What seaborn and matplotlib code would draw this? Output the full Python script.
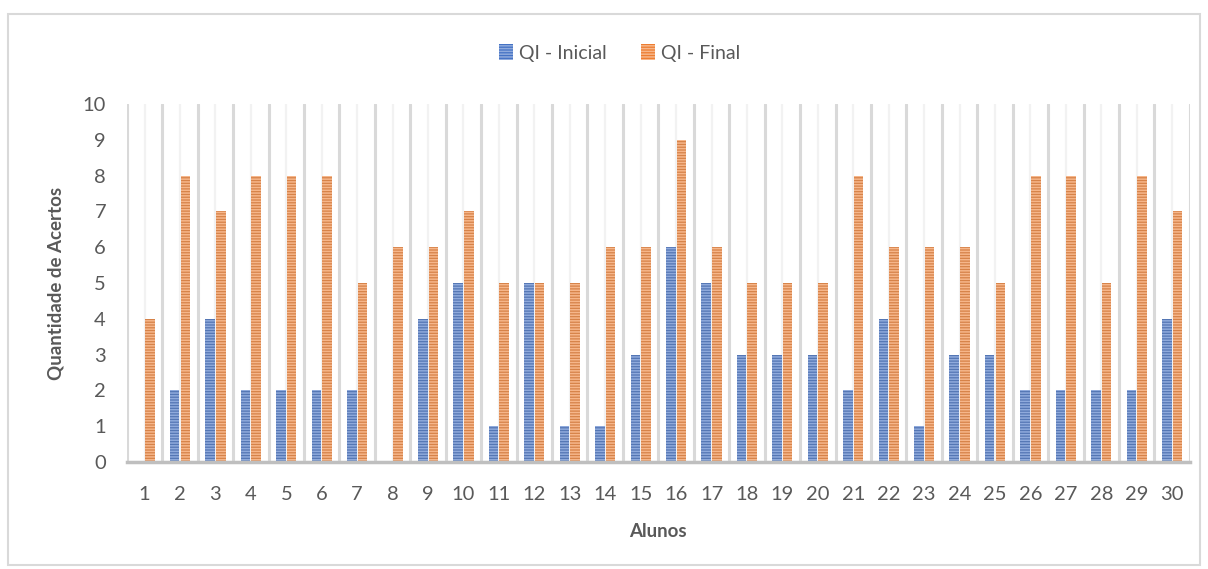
import matplotlib
matplotlib.use('Agg')
import matplotlib.pyplot as plt
from matplotlib.patches import Rectangle
import pandas as pd
import seaborn as sns

alunos = list(range(1, 31))
qi_inicial = [0, 2, 4, 2, 2, 2, 2, 0, 4, 5, 1, 5, 1, 1, 3, 6, 5, 3, 3, 3, 2, 4, 1, 3, 3, 2, 2, 2, 2, 4]
qi_final = [4, 8, 7, 8, 8, 8, 5, 6, 6, 7, 5, 5, 5, 6, 6, 9, 6, 5, 5, 5, 8, 6, 6, 6, 5, 8, 8, 5, 8, 7]
series = ['QI - Inicial', 'QI - Final']

df = pd.DataFrame({
    'Alunos': alunos * 2,
    'Acertos': qi_inicial + qi_final,
    'Serie': [series[0]] * 30 + [series[1]] * 30,
})

sns.set_style('white')
plt.rcParams['font.family'] = ['Lato', 'DejaVu Sans']
plt.rcParams['hatch.linewidth'] = 1.1

grey = '#595959'
colors = {'QI - Inicial': '#4472C4', 'QI - Final': '#ED7D31'}
stripes = {'QI - Inicial': '#8FAADC', 'QI - Final': '#F6B68A'}

fig = plt.figure(figsize=(12.08, 5.69), dpi=100)
ax = fig.add_axes([0.105, 0.188, 0.88, 0.629])

sns.barplot(data=df, x='Alunos', y='Acertos', hue='Serie', hue_order=series,
            palette=colors, width=0.6, gap=0.1, legend=False, ax=ax)

for cont, name in zip(ax.containers, series):
    for p in cont:
        p.set_edgecolor(stripes[name])
        p.set_linewidth(0)
        p.set_hatch('------')

ax.set_ylim(0, 10)
ax.set_xlim(-0.5, 29.5)
ax.set_yticks(range(0, 11))

# gridlines: darker between students, lighter at centres
for k in range(31):
    ax.axvline(k - 0.5, color='#D9D9D9', lw=2.2, zorder=0)
for k in range(30):
    ax.axvline(k, color='#F2F2F2', lw=1.6, zorder=0)

for s in ['top', 'right', 'left']:
    ax.spines[s].set_visible(False)
ax.spines['bottom'].set_color('#BFBFBF')
ax.spines['bottom'].set_linewidth(2.5)

ax.tick_params(axis='y', length=0, pad=15, labelsize=14.5, labelcolor=grey)
ax.tick_params(axis='x', length=0, pad=17, labelsize=14.5, labelcolor=grey)

ax.set_ylabel('Quantidade de Acertos', fontsize=13.5, fontweight='bold', color=grey, labelpad=13)
ax.set_xlabel('Alunos', fontsize=13.5, fontweight='bold', color=grey, labelpad=15)

handles = [Rectangle((0, 0), 1, 1, facecolor=colors[n], edgecolor=stripes[n], lw=0, hatch='------')
           for n in series]
fig.legend(handles, series, loc='center', bbox_to_anchor=(0.513, 0.907), ncol=2, frameon=False,
           fontsize=14, labelcolor=grey, handlelength=0.7, handleheight=0.9,
           handletextpad=0.3, columnspacing=1.8)

fig.patches.append(Rectangle((8 / 1208, 4 / 569), 1192 / 1208, 551 / 569, transform=fig.transFigure,
                             fill=False, edgecolor='#D9D9D9', lw=1.5))

fig.savefig('out.png', dpi=100, facecolor='white')
